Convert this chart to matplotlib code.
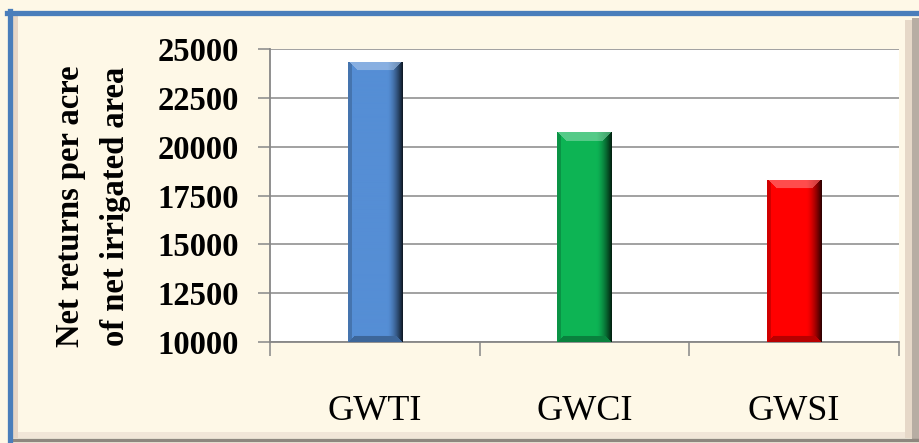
import numpy as np
import matplotlib
matplotlib.use("Agg")
import matplotlib.pyplot as plt
from matplotlib.colors import to_rgb
from matplotlib.patches import Rectangle
from matplotlib.lines import Line2D

# data
categories = ["GWTI", "GWCI", "GWSI"]
net_returns = [24350, 20750, 18300]
bar_colors = ["#558ED5", "#0DB455", "#FF0000"]

W, H = 919, 443
plt.rcParams['font.family'] = ['Liberation Serif', 'DejaVu Serif']

fig = plt.figure(figsize=(W / 100, H / 100), dpi=100)
fig.patch.set_facecolor("#FEF8E7")


def px(x, y):
    # pixel coords (top-left origin) -> figure fraction
    return x / W, 1 - y / H


def box(x0, y0, x1, y1, color):
    # rectangle given in pixel coords (top-left origin)
    fig.add_artist(Rectangle(px(x0, y1), (x1 - x0) / W, (y1 - y0) / H,
                             transform=fig.transFigure, color=color, lw=0))


# frame: inner bevel + blue border + grey shadow
box(12, 15, 18, 438, "#E6D6C6")
box(18, 432, 905, 438, "#F1E6D8")
box(905, 20, 912, 438, "#E6D8C8")
box(912, 18, 919, 441, "#B7ADA3")
fig.add_artist(Line2D([px(12, 0)[0], 1], [px(0, 440)[1]] * 2, transform=fig.transFigure,
                      color="#8E877F", lw=2.5))
fig.add_artist(Line2D([px(7, 0)[0], 1], [px(0, 12.5)[1]] * 2, transform=fig.transFigure,
                      color="#4A7EBB", lw=3.8))
fig.add_artist(Line2D([px(9.5, 0)[0]] * 2, [0, px(0, 10.5)[1]], transform=fig.transFigure,
                      color="#4A7EBB", lw=3.8))

ax = fig.add_axes([270 / W, (H - 342) / H, 629 / W, 293 / H])
ax.set_facecolor("white")

ymin, ymax = 10000, 25000
bar_w = 0.26
x = np.arange(len(categories))
ax.set_xlim(-0.5, len(categories) - 0.5)
ax.set_ylim(ymin, ymax)

bars = ax.bar(x, [v - ymin for v in net_returns], bottom=ymin, width=bar_w,
              color=bar_colors, zorder=3)

# bevel shading for each bar, drawn as an image clipped to the bar
ppx = 629 / (len(categories))  # pixels per category
upp = (ymax - ymin) / 293      # data units per pixel (y)
for b, c in zip(bars, bar_colors):
    base = np.array(to_rgb(c))
    wpx = int(round(bar_w * ppx))
    hpx = int(round(b.get_height() / upp))
    xx, yy = np.meshgrid(np.arange(wpx) + 0.5, np.arange(hpx) + 0.5)
    fx = xx / wpx
    img = np.ones((hpx, wpx, 3)) * base
    # horizontal shading: slight dark left edge, strong dark right edge
    shade = np.ones_like(fx)
    shade = np.where(fx < 0.08, 0.82, shade)
    right = np.clip((fx - 0.72) / 0.28, 0, 1)
    shade = shade * (1 - 0.85 * right ** 1.5)
    img = img * shade[..., None]
    bev = 9
    d_top = yy
    d_bot = hpx - yy
    d_l = xx
    d_r = wpx - xx
    top = (d_top < bev) & (d_top < d_l) & (d_top < d_r)
    bot = (d_bot < 6) & (d_bot < d_l) & (d_bot < d_r)
    light = base + (1 - base) * 0.3
    img[top] = light * np.where(top, 1 - 0.25 * right, 1)[top][:, None]
    img[bot] = base * 0.72
    im = ax.imshow(np.clip(img, 0, 1), extent=(b.get_x(), b.get_x() + b.get_width(),
                                               b.get_y(), b.get_y() + b.get_height()),
                   aspect="auto", zorder=4, interpolation="bilinear")
    im.set_clip_path(b)

ax.set_yticks(np.arange(ymin, ymax + 1, 2500))
ax.yaxis.grid(True, color="#878787", lw=1.1, zorder=0)
ax.set_axisbelow(True)
for s in ["top", "right"]:
    ax.spines[s].set_visible(False)
for s in ["left", "bottom"]:
    ax.spines[s].set_color("#878787")
    ax.spines[s].set_linewidth(1.3)

ax.set_xticks(x)
ax.set_xticklabels(categories, fontsize=26)
ax.set_xticks(np.arange(-0.5, len(categories), 1), minor=True)
ax.tick_params(axis="x", which="major", length=0, pad=38)
ax.tick_params(axis="x", which="minor", length=10, width=1.1, color="#878787", direction="out")
ax.tick_params(axis="y", length=8.5, width=1.1, color="#878787", direction="out", pad=14)
for t in ax.get_yticklabels():
    t.set_fontsize(23.5)
    t.set_fontweight("bold")

fig.text(93 / W, (H - 206) / H, "Net returns per acre\nof net irrigated area",
         rotation=90, ha="center", va="center", multialignment="center",
         fontsize=23.5, fontweight="bold", linespacing=1.55)

fig.savefig("out.png", dpi=100, facecolor=fig.get_facecolor())
